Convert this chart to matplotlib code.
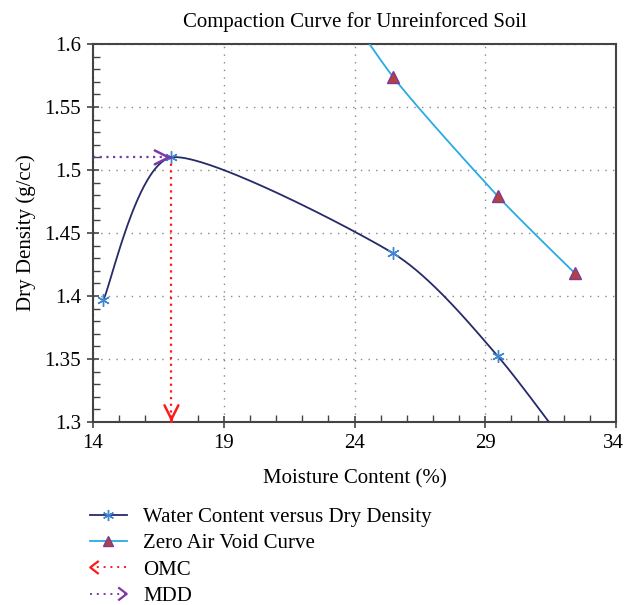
import numpy as np
import matplotlib
matplotlib.use("Agg")
import matplotlib.pyplot as plt
import matplotlib.transforms as mtransforms
from matplotlib.lines import Line2D
from matplotlib.legend_handler import HandlerBase
from matplotlib.ticker import MultipleLocator, FuncFormatter

# ---- data ----
water_x = [14.4, 17.0, 25.47, 29.49, 33.5]
water_y = [1.397, 1.510, 1.434, 1.352, 1.242]
zav_x = [22.0, 25.47, 29.49, 32.43]
zav_y = [1.680, 1.574, 1.479, 1.418]
omc = 17.0
mdd = 1.51
x_ticks = [14, 19, 24, 29, 34]
y_ticks = [1.3, 1.35, 1.4, 1.45, 1.5, 1.55, 1.6]

title = "Compaction Curve for Unreinforced Soil"
xlabel = "Moisture Content (%)"
ylabel = "Dry Density (g/cc)"
labels = ["Water Content versus Dry Density", "Zero Air Void Curve", "OMC", "MDD"]

plt.rcParams['font.family'] = ['Liberation Serif', 'DejaVu Serif']
FS = 15

NAVY = '#252b68'
LBLUE = '#3f86cf'
CYAN = '#29abe2'
TRI_FACE = '#b5423a'
TRI_EDGE = '#7a3aa0'
RED = '#ff1a1a'
PURPLE = '#7a3aa8'
SPINE = '#444444'

xlim = (x_ticks[0], x_ticks[-1])
ylim = (y_ticks[0], y_ticks[-1])


def smooth(xs, ys, s=0.7, n=80):
    # cardinal spline computed in normalized axis space
    sx = xlim[1] - xlim[0]
    sy = ylim[1] - ylim[0]
    P = np.column_stack([(np.array(xs) - xlim[0]) / sx, (np.array(ys) - ylim[0]) / sy])
    P = np.vstack([P[0], P, P[-1]])
    out = []
    for i in range(1, len(P) - 2):
        p0, p1, p2, p3 = P[i - 1], P[i], P[i + 1], P[i + 2]
        t = np.linspace(0, 1, n)[:, None]
        m1 = s * (p2 - p0) / 2
        m2 = s * (p3 - p1) / 2
        h00 = 2 * t**3 - 3 * t**2 + 1
        h10 = t**3 - 2 * t**2 + t
        h01 = -2 * t**3 + 3 * t**2
        h11 = t**3 - t**2
        seg = h00 * p1 + h10 * m1 + h01 * p2 + h11 * m2
        out.append(seg)
    out = np.vstack(out)
    return out[:, 0] * sx + xlim[0], out[:, 1] * sy + ylim[0]


fig = plt.figure(figsize=(6.24, 6.05), dpi=100)
ax = fig.add_axes([93 / 624, 1 - 422 / 605, (616 - 93) / 624, (422 - 44) / 605])

wx, wy = smooth(water_x, water_y)
ax.plot(wx, wy, color=NAVY, lw=1.3, zorder=3)
ax.plot(water_x, water_y, ls='none', marker=(6, 2, 0), ms=9, mew=1.0,
        color=LBLUE, zorder=4)

zx, zy = smooth(zav_x, zav_y)
ax.plot(zx, zy, color=CYAN, lw=1.3, zorder=3)
ax.plot(zav_x, zav_y, ls='none', marker='^', ms=8, mfc=TRI_FACE, mec=TRI_EDGE,
        mew=1.0, zorder=4)

# OMC (vertical) and MDD (horizontal) dotted lines with chevrons
ax.plot([omc, omc], [mdd, ylim[0]], color=RED, ls=(0, (1, 2)), lw=1.6, zorder=2)
ax.annotate('', xy=(omc, ylim[0]), xytext=(omc, ylim[0] + 0.0005),
            arrowprops=dict(arrowstyle='->,head_length=1.0,head_width=0.5',
                            color=RED, lw=1.8, shrinkA=0, shrinkB=0), zorder=5,
            annotation_clip=False)
ax.plot([xlim[0], omc], [mdd, mdd], color=PURPLE, ls=(0, (1, 2)), lw=1.6, zorder=2)
ax.annotate('', xy=(omc, mdd), xytext=(omc - 0.02, mdd),
            arrowprops=dict(arrowstyle='->,head_length=1.0,head_width=0.5',
                            color=PURPLE, lw=1.8, shrinkA=0, shrinkB=0), zorder=5)

ax.set_xlim(*xlim)
ax.set_ylim(*ylim)
ax.set_xticks(x_ticks)
ax.set_yticks(y_ticks)
ax.xaxis.set_minor_locator(MultipleLocator(1))
ax.yaxis.set_minor_locator(MultipleLocator(0.01))
ax.yaxis.set_major_formatter(FuncFormatter(lambda v, p: f"{round(v, 2):g}"))
ax.tick_params(which='major', direction='inout', length=9, width=1.2, color=SPINE,
               labelsize=FS, pad=4)
ax.tick_params(which='minor', direction='in', length=5, width=1.0, color=SPINE)
ax.grid(True, which='major', color='#888888', ls=(0, (1, 4.5)), lw=1.0)
for s in ax.spines.values():
    s.set_color(SPINE)
    s.set_linewidth(1.5)

ax.set_title(title, fontsize=FS, pad=12)
ax.set_xlabel(xlabel, fontsize=FS, labelpad=12)
ax.set_ylabel(ylabel, fontsize=FS, labelpad=6)

# nudge the last x tick label so it stays inside the figure
fig.canvas.draw()
last = ax.get_xticklabels()[-1]
last.set_transform(last.get_transform() +
                   mtransforms.ScaledTranslation(-3 / 100, 0, fig.dpi_scale_trans))


class ChevronHandler(HandlerBase):
    def __init__(self, color, side):
        super().__init__()
        self.color = color
        self.side = side

    def create_artists(self, legend, orig_handle, xdescent, ydescent, width,
                       height, fontsize, trans):
        y = height / 2 - ydescent
        x0, x1 = -xdescent, width - xdescent
        line = Line2D([x0, x1], [y, y], color=self.color, ls=(0, (1, 2.5)), lw=1.4,
                      transform=trans)
        h = height * 0.4
        if self.side == 'left':
            cx = [x0 + h * 1.3, x0, x0 + h * 1.3]
        else:
            cx = [x1 - h * 1.3, x1, x1 - h * 1.3]
        chev = Line2D(cx, [y + h, y, y - h], color=self.color, lw=1.6, transform=trans)
        return [line, chev]


h1 = Line2D([], [], color=NAVY, lw=1.3, marker=(6, 2, 0), ms=8, mec=LBLUE, mew=1.0)
h2 = Line2D([], [], color=CYAN, lw=1.3, marker='^', ms=7, mfc=TRI_FACE, mec=TRI_EDGE)
h3 = Line2D([], [], color=RED)
h4 = Line2D([], [], color=PURPLE)
fig.legend([h1, h2, h3, h4], labels, loc='upper left',
           bbox_to_anchor=(84 / 624, 1 - 501 / 605), frameon=False, fontsize=FS,
           handlelength=1.75, handletextpad=0.8, labelspacing=0.33, numpoints=1,
           borderaxespad=0, borderpad=0.3,
           handler_map={h3: ChevronHandler(RED, 'left'),
                        h4: ChevronHandler(PURPLE, 'right')})

fig.savefig('out.png', dpi=100)
